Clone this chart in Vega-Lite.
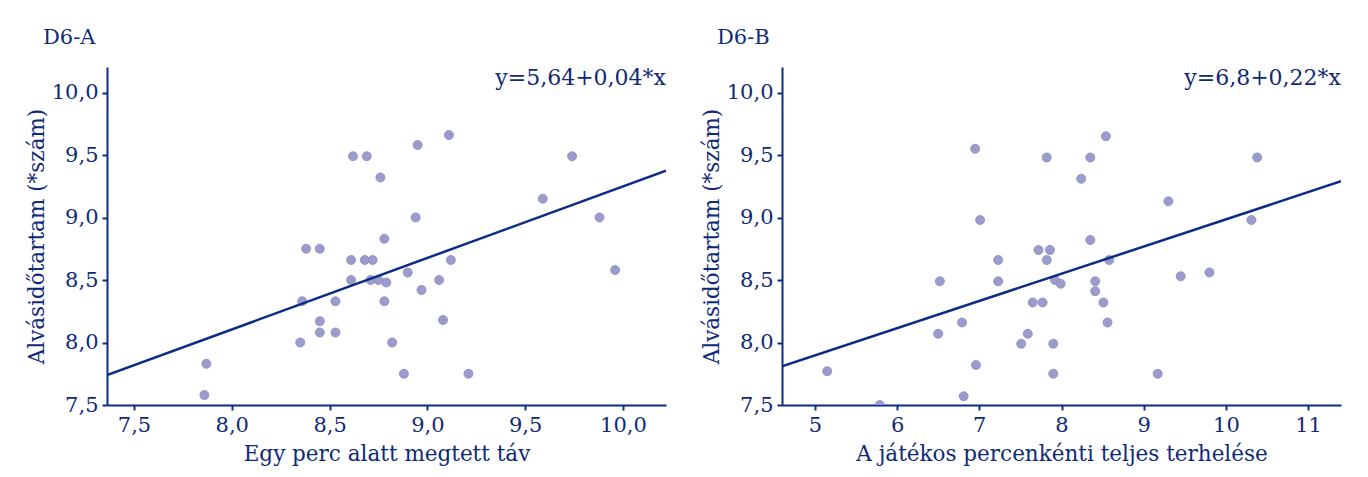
{
  "$schema": "https://vega.github.io/schema/vega-lite/v6.json",
  "background": "white",
  "padding": {"left": 26, "top": 27, "right": 5, "bottom": 5},
  "bounds": "flush",
  "spacing": 116,
  "datasets": {
    "leftPts": [
      {"x": 8.62, "y": 9.49}, {"x": 8.69, "y": 9.49}, {"x": 8.76, "y": 9.32}, {"x": 8.78, "y": 8.83},
      {"x": 8.38, "y": 8.75}, {"x": 8.45, "y": 8.75}, {"x": 8.61, "y": 8.66}, {"x": 8.68, "y": 8.66},
      {"x": 8.72, "y": 8.66}, {"x": 8.61, "y": 8.5}, {"x": 8.71, "y": 8.5}, {"x": 8.75, "y": 8.5},
      {"x": 8.79, "y": 8.48}, {"x": 8.36, "y": 8.33}, {"x": 8.53, "y": 8.33}, {"x": 8.78, "y": 8.33},
      {"x": 8.45, "y": 8.17}, {"x": 8.45, "y": 8.08}, {"x": 8.53, "y": 8.08}, {"x": 8.35, "y": 8.0},
      {"x": 8.82, "y": 8.0}, {"x": 7.87, "y": 7.83}, {"x": 7.86, "y": 7.58},
      {"x": 9.11, "y": 9.66}, {"x": 8.95, "y": 9.58}, {"x": 9.74, "y": 9.49}, {"x": 9.59, "y": 9.15},
      {"x": 8.94, "y": 9.0}, {"x": 9.88, "y": 9.0}, {"x": 9.12, "y": 8.66}, {"x": 8.9, "y": 8.56},
      {"x": 9.06, "y": 8.5}, {"x": 8.97, "y": 8.42}, {"x": 9.96, "y": 8.58}, {"x": 9.08, "y": 8.18},
      {"x": 8.88, "y": 7.75}, {"x": 9.21, "y": 7.75}
    ],
    "rightPts": [
      {"x": 6.95, "y": 9.55}, {"x": 7.82, "y": 9.48}, {"x": 7.01, "y": 8.98}, {"x": 7.72, "y": 8.74},
      {"x": 7.86, "y": 8.74}, {"x": 7.23, "y": 8.66}, {"x": 7.82, "y": 8.66}, {"x": 6.52, "y": 8.49},
      {"x": 7.23, "y": 8.49}, {"x": 7.92, "y": 8.5}, {"x": 7.99, "y": 8.47}, {"x": 7.65, "y": 8.32},
      {"x": 7.77, "y": 8.32}, {"x": 6.79, "y": 8.16}, {"x": 6.5, "y": 8.07}, {"x": 7.59, "y": 8.07},
      {"x": 7.51, "y": 7.99}, {"x": 7.9, "y": 7.99}, {"x": 5.15, "y": 7.77}, {"x": 6.96, "y": 7.82},
      {"x": 7.9, "y": 7.75}, {"x": 6.81, "y": 7.57}, {"x": 5.79, "y": 7.5},
      {"x": 8.54, "y": 9.65}, {"x": 8.35, "y": 9.48}, {"x": 10.38, "y": 9.48}, {"x": 8.24, "y": 9.31},
      {"x": 9.3, "y": 9.13}, {"x": 10.31, "y": 8.98}, {"x": 8.35, "y": 8.82}, {"x": 8.58, "y": 8.66},
      {"x": 8.41, "y": 8.49}, {"x": 8.41, "y": 8.41}, {"x": 9.45, "y": 8.53}, {"x": 9.8, "y": 8.56},
      {"x": 8.51, "y": 8.32}, {"x": 8.56, "y": 8.16}, {"x": 9.17, "y": 7.75}
    ],
    "leftLine": [{"x": 7.362, "y": 7.74}, {"x": 10.22, "y": 9.374}],
    "rightLine": [{"x": 4.6, "y": 7.81}, {"x": 11.4, "y": 9.29}],
    "leftEq": [{"eq": "y=5,64+0,04*x"}],
    "rightEq": [{"eq": "y=6,8+0,22*x"}]
  },
  "hconcat": [
    {
      "width": 559,
      "height": 338,
      "title": {"text": "D6-A", "anchor": "start", "frame": "group", "dx": -64, "baseline": "alphabetic", "offset": 2},
      "layer": [
        {
          "data": {"name": "leftPts"},
          "mark": {"type": "circle", "size": 82, "opacity": 1, "fill": "#9b9bcc", "stroke": "#8c8cc2", "strokeWidth": 0.8, "clip": true},
          "encoding": {
            "x": {"field": "x", "type": "quantitative", "scale": {"domain": [7.362, 10.22], "nice": false, "zero": false},
              "axis": {"title": "Egy perc alatt megtett táv", "values": [7.5, 8, 8.5, 9, 9.5, 10], "labelExpr": "replace(format(datum.value, '.1f'), '.', ',')", "titlePadding": 8}},
            "y": {"field": "y", "type": "quantitative", "scale": {"domain": [7.5, 10.204], "nice": false, "zero": false},
              "axis": {"title": "Alvásidőtartam (*szám)", "values": [7.5, 8, 8.5, 9, 9.5, 10], "labelExpr": "replace(format(datum.value, '.1f'), '.', ',')", "titlePadding": 3}}
          }
        },
        {
          "data": {"name": "leftLine"},
          "mark": {"type": "line", "color": "#0b2c84", "strokeWidth": 2.5, "clip": true},
          "encoding": {"x": {"field": "x", "type": "quantitative"}, "y": {"field": "y", "type": "quantitative"}}
        },
        {
          "data": {"name": "leftEq"},
          "mark": {"type": "text", "align": "right", "baseline": "alphabetic", "dy": 18, "font": "DejaVu Serif", "fontSize": 22, "color": "#102a78"},
          "encoding": {"x": {"datum": 10.22, "type": "quantitative"}, "y": {"datum": 10.204, "type": "quantitative"}, "text": {"field": "eq"}}
        }
      ]
    },
    {
      "width": 559,
      "height": 338,
      "title": {"text": "D6-B", "anchor": "start", "frame": "group", "dx": -65, "baseline": "alphabetic", "offset": 2},
      "layer": [
        {
          "data": {"name": "rightPts"},
          "mark": {"type": "circle", "size": 82, "opacity": 1, "fill": "#9b9bcc", "stroke": "#8c8cc2", "strokeWidth": 0.8, "clip": true},
          "encoding": {
            "x": {"field": "x", "type": "quantitative", "scale": {"domain": [4.6, 11.4], "nice": false, "zero": false},
              "axis": {"title": "A játékos percenkénti teljes terhelése", "values": [5, 6, 7, 8, 9, 10, 11], "format": "d", "titlePadding": 8}},
            "y": {"field": "y", "type": "quantitative", "scale": {"domain": [7.5, 10.204], "nice": false, "zero": false},
              "axis": {"title": "Alvásidőtartam (*szám)", "values": [7.5, 8, 8.5, 9, 9.5, 10], "labelExpr": "replace(format(datum.value, '.1f'), '.', ',')", "titlePadding": 3}}
          }
        },
        {
          "data": {"name": "rightLine"},
          "mark": {"type": "line", "color": "#0b2c84", "strokeWidth": 2.5, "clip": true},
          "encoding": {"x": {"field": "x", "type": "quantitative"}, "y": {"field": "y", "type": "quantitative"}}
        },
        {
          "data": {"name": "rightEq"},
          "mark": {"type": "text", "align": "right", "baseline": "alphabetic", "dy": 18, "font": "DejaVu Serif", "fontSize": 22, "color": "#102a78"},
          "encoding": {"x": {"datum": 11.4, "type": "quantitative"}, "y": {"datum": 10.204, "type": "quantitative"}, "text": {"field": "eq"}}
        }
      ]
    }
  ],
  "config": {
    "view": {"stroke": null},
    "title": {"font": "DejaVu Serif", "fontSize": 21, "fontWeight": "normal", "color": "#102a78"},
    "axis": {
      "grid": false,
      "domainColor": "#0b2c84", "domainWidth": 2,
      "tickColor": "#0b2c84", "tickWidth": 2, "tickSize": 5,
      "labelPadding": 4, "labelFont": "DejaVu Serif", "labelFontSize": 21, "labelColor": "#102a78",
      "labelFlush": false, "labelOverlap": false,
      "titleFont": "DejaVu Serif", "titleFontSize": 21.5, "titleFontWeight": "normal", "titleColor": "#102a78"
    }
  }
}
